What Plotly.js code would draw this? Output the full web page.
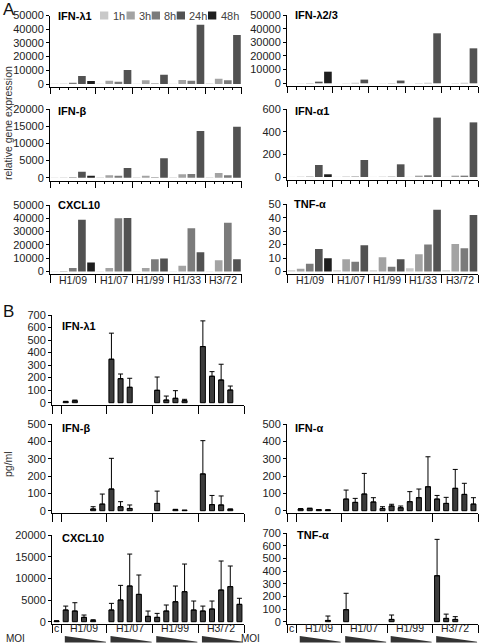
<!DOCTYPE html>
<html>
<head>
<meta charset="utf-8">
<script src="https://cdn.plot.ly/plotly-3.0.1.min.js"></script>
<style>
html,body{margin:0;padding:0;background:#fff;}
#chart{width:480px;height:643px;}
</style>
</head>
<body>
<div id="chart"></div>
<script>
// ---------------- DATA ----------------
const viruses = ['H1/09', 'H1/07', 'H1/99', 'H1/33', 'H3/72'];
const times = ['1h', '3h', '8h', '24h', '48h'];
const bGroups = ['c', 'H1/09', 'H1/07', 'H1/99', 'H3/72'];

// Panel A: relative gene expression. Rows = 1h,3h,8h,24h,48h; columns = viruses (48h only for H1/09)
const A_IFNL1 = [
  [100, 200, 150, 200, 300],
  [200, 2440, 2700, 2900, 3900],
  [1000, 1700, 300, 2440, 2700],
  [5850, 10240, 6800, 43200, 35800],
  [2200, null, null, null, null]
];
const A_IFNL23 = [
  [50, 50, 50, 50, 50],
  [100, 150, 100, 200, 200],
  [200, 300, 200, 300, 300],
  [1200, 2700, 2000, 36600, 25600],
  [8500, null, null, null, null]
];
const A_IFNB = [
  [50, 100, 100, 100, 150],
  [80, 680, 580, 970, 1360],
  [150, 580, 120, 1070, 680],
  [1750, 2820, 5630, 13600, 14850],
  [580, null, null, null, null]
];
const A_IFNA1 = [
  [1, 1, 1, 1, 1],
  [2, 3, 2, 12, 12],
  [3, 4, 3, 15, 12],
  [106, 150, 112, 524, 482],
  [24, null, null, null, null]
];
const A_CXCL10 = [
  [100, 100, 100, 100, 100],
  [300, 2700, 2700, 4300, 8500],
  [2700, 40000, 9300, 32600, 36600],
  [39000, 40300, 9800, 14500, 9300],
  [6800, null, null, null, null]
];
const A_TNFA = [
  [1, 1, 1, 2.5, 1],
  [2, 9.2, 10.6, 12.9, 20.5],
  [5.7, 7.2, 3.5, 20, 17.3],
  [16.8, 19.6, 9.2, 46, 42],
  [9.9, null, null, null, null]
];

// Panel B: pg/ml. Order: c, H1/09 x5 MOI, H1/07 x5, H1/99 x5, H3/72 x5 (decreasing MOI)
const B_IFNL1_mean = [0, 8, 15, 0, 0, 0, 347, 192, 123, 0, 0, 99, 21, 35, 16, 0, 448, 211, 181, 101, 0];
const B_IFNL1_sd   = [0, 3, 6, 0, 0, 0, 208, 37, 72, 0, 0, 106, 32, 61, 11, 0, 205, 37, 126, 32, 0];
const B_IFNB_mean  = [0, 0, 0, 0, 10, 38, 125, 23, 13, 0, 0, 42, 0, 6, 2, 0, 212, 35, 33, 8, 0];
const B_IFNB_sd    = [0, 0, 0, 0, 13, 58, 177, 29, 20, 0, 0, 71, 0, 2, 1, 0, 192, 53, 52, 2, 0];
const B_IFNA_mean  = [0, 10, 12, 5, 4, 0, 67, 48, 96, 50, 13, 27, 17, 52, 75, 138, 67, 42, 129, 94, 38];
const B_IFNA_sd    = [0, 2, 3, 1, 1, 0, 52, 23, 119, 25, 10, 10, 10, 58, 50, 173, 21, 35, 109, 64, 37];
const B_CXCL10_mean = [150, 2690, 2460, 1000, 230, 0, 2690, 5000, 8230, 6300, 1230, 1000, 2460, 4600, 6920, 2690, 2460, 2920, 7300, 8080, 4000];
const B_CXCL10_sd   = [50, 910, 1920, 540, 230, 0, 1540, 3380, 7370, 4470, 1230, 920, 1390, 3630, 6380, 2080, 1140, 1850, 6700, 4770, 1400];
const B_TNFA_mean = [0, 0, 0, 0, 10, 0, 95, 0, 0, 0, 0, 18, 0, 0, 0, 0, 364, 26, 18, 0, 0];
const B_TNFA_sd   = [0, 0, 0, 0, 35, 0, 130, 0, 0, 0, 0, 35, 0, 0, 0, 0, 288, 34, 22, 0, 0];

// ---------------- STYLE / LAYOUT ----------------
const timeColors = ['#c9c9c9', '#a3a3a3', '#7b7b7b', '#525252', '#1e1e1e'];
const F = 'Liberation Sans, Arial, Helvetica, sans-serif';
const W = 480, H = 643;
const xp = v => v / W, yp = v => 1 - v / H;

const data = [];
const layout = {
  width: W, height: H,
  margin: {l: 0, r: 0, t: 0, b: 0, pad: 0},
  paper_bgcolor: '#ffffff', plot_bgcolor: 'rgba(0,0,0,0)',
  showlegend: false, barmode: 'overlay',
  font: {family: F, size: 11, color: '#222'},
  annotations: [], shapes: []
};

let axN = 0;
function newAxes(b, yMax, dtick, xcfg) {
  axN++;
  const s = axN === 1 ? '' : String(axN);
  const lo = -yMax * (b.axis - b.zero) / (b.zero - b.top);
  layout['xaxis' + s] = Object.assign({
    domain: [xp(b.x0), xp(b.x1)], range: [-0.5, 20.5], anchor: 'y' + s,
    showline: true, linecolor: '#000', linewidth: 1,
    ticks: 'outside', tickmode: 'array', tickcolor: '#000', tickwidth: 1,
    showticklabels: false, showgrid: false, zeroline: false, fixedrange: true
  }, xcfg);
  layout['yaxis' + s] = {
    domain: [yp(b.axis), yp(b.top)], range: [lo, yMax], anchor: 'x' + s,
    showline: true, linecolor: '#000', linewidth: 1,
    ticks: 'outside', ticklen: 3, tickwidth: 1, tickcolor: '#000',
    tickmode: 'linear', tick0: 0, dtick: dtick, tickformat: 'd',
    tickfont: {family: F, size: 11, color: '#222'},
    showgrid: false, zeroline: false, fixedrange: true
  };
  return {xa: 'x' + s, ya: 'y' + s};
}

function addTitle(text, t) {
  layout.annotations.push({
    xref: 'paper', yref: 'paper', x: xp(t[0]), y: yp(t[1]),
    xanchor: 'left', yanchor: 'middle', showarrow: false,
    text: '<b>' + text + '</b>', font: {family: F, size: 11, color: '#000'}
  });
}

// slot index for panel A (H1/09 has 5 time points, others 4)
const slotA = (v, t) => v === 0 ? t : 5 + (v - 1) * 4 + t;
const groupStartA = v => v === 0 ? 0 : 5 + (v - 1) * 4;
const groupLenA = v => v === 0 ? 5 : 4;
const majorA = [-0.5].concat(viruses.map((v, i) => groupStartA(i) + groupLenA(i) - 0.5));
const minorA = [];
viruses.forEach((v, i) => { for (let k = 1; k < groupLenA(i); k++) minorA.push(groupStartA(i) + k - 0.5); });

const panelsA = [
  {title: 'IFN-λ1', d: A_IFNL1, max: 50000, dt: 10000, b: {x0: 50, x1: 241.5, top: 15.5, zero: 84, axis: 86.5}, t: [56, 16], lab: false},
  {title: 'IFN-λ2/3', d: A_IFNL23, max: 50000, dt: 10000, b: {x0: 287, x1: 478, top: 15, zero: 83.3, axis: 86}, t: [293, 15], lab: false},
  {title: 'IFN-β', d: A_IFNB, max: 20000, dt: 5000, b: {x0: 50, x1: 241.5, top: 109, zero: 177.7, axis: 180.5}, t: [56, 111], lab: false},
  {title: 'IFN-α1', d: A_IFNA1, max: 600, dt: 200, b: {x0: 287, x1: 478, top: 109, zero: 177, axis: 180}, t: [293, 111], lab: false},
  {title: 'CXCL10', d: A_CXCL10, max: 50000, dt: 10000, b: {x0: 50, x1: 241.5, top: 205, zero: 271.5, axis: 273.5}, t: [56, 205], lab: true},
  {title: 'TNF-α', d: A_TNFA, max: 50, dt: 10, b: {x0: 287, x1: 478, top: 204.3, zero: 271.5, axis: 273.5}, t: [292, 204], lab: true}
];

panelsA.forEach(p => {
  const xcfg = {tickvals: majorA, ticklen: p.lab ? 8 : 6};
  if (!p.lab) xcfg.minor = {tickmode: 'array', tickvals: minorA, ticks: 'outside', ticklen: 2.5, tickcolor: '#000', tickwidth: 1};
  const ax = newAxes(p.b, p.max, p.dt, xcfg);
  times.forEach((tm, t) => {
    const xs = [], ys = [];
    viruses.forEach((v, vi) => {
      const val = p.d[t][vi];
      if (val !== null && val !== undefined) { xs.push(slotA(vi, t)); ys.push(val); }
    });
    data.push({type: 'bar', x: xs, y: ys, width: 0.84, name: tm,
      marker: {color: timeColors[t], line: {width: 0}},
      xaxis: ax.xa, yaxis: ax.ya, hoverinfo: 'skip'});
  });
  addTitle(p.title, p.t);
  if (p.lab) {
    viruses.forEach((v, vi) => {
      layout.annotations.push({xref: ax.xa, yref: 'paper',
        x: groupStartA(vi) + (groupLenA(vi) - 1) / 2, y: yp(280),
        xanchor: 'center', yanchor: 'middle', showarrow: false, text: v,
        font: {family: F, size: 10.5, color: '#222'}});
    });
  }
});

// Panel B
const majorB = [-0.5, 0.5, 5.5, 10.5, 15.5, 20.5];
const panelsB = [
  {title: 'IFN-λ1', m: B_IFNL1_mean, sd: B_IFNL1_sd, max: 700, dt: 100, b: {x0: 52, x1: 244, top: 315, zero: 402.7, axis: 405}, t: [60, 326], lab: false},
  {title: 'IFN-β', m: B_IFNB_mean, sd: B_IFNB_sd, max: 500, dt: 100, b: {x0: 52, x1: 244, top: 424, zero: 510.7, axis: 513}, t: [60, 428], lab: false},
  {title: 'IFN-α', m: B_IFNA_mean, sd: B_IFNA_sd, max: 500, dt: 100, b: {x0: 287, x1: 478, top: 424, zero: 510.7, axis: 513}, t: [293, 428], lab: false},
  {title: 'CXCL10', m: B_CXCL10_mean, sd: B_CXCL10_sd, max: 20000, dt: 5000, b: {x0: 52, x1: 244, top: 535, zero: 621.7, axis: 624}, t: [60, 538], lab: true},
  {title: 'TNF-α', m: B_TNFA_mean, sd: B_TNFA_sd, max: 700, dt: 100, b: {x0: 287, x1: 478, top: 533.3, zero: 621.7, axis: 624}, t: [295, 535], lab: true}
];

panelsB.forEach(p => {
  const ax = newAxes(p.b, p.max, p.dt, {tickvals: majorB, ticklen: 8});
  const xs = p.m.map((v, i) => i);
  data.push({type: 'bar', x: xs, y: p.m.map(v => v > 0 ? v : null), width: 0.55,
    marker: {color: '#3c3c3c', line: {color: '#000', width: 1}},
    error_y: {type: 'data', symmetric: false,
      array: p.sd.map(v => v > 0 ? v : null),
      arrayminus: p.sd.map(v => v > 0 ? 0 : null),
      color: '#000', thickness: 1, width: 2.5},
    xaxis: ax.xa, yaxis: ax.ya, hoverinfo: 'skip'});
  addTitle(p.title, p.t);
  if (p.lab) {
    bGroups.forEach((g, gi) => {
      layout.annotations.push({xref: ax.xa, yref: 'paper',
        x: gi === 0 ? 0 : 1 + (gi - 1) * 5 + 2, y: yp(628),
        xanchor: 'center', yanchor: 'middle', showarrow: false, text: g,
        font: {family: F, size: 10.5, color: '#222'}});
      if (gi > 0) {
        const L = 1 + (gi - 1) * 5 - 0.1, R = L + 4.5;
        layout.shapes.push({type: 'path', xref: ax.xa, yref: 'paper',
          path: 'M' + L + ',' + yp(636) + ' L' + L + ',' + yp(642.5) + ' L' + R + ',' + yp(642.5) + ' L' + R + ',' + yp(641.8) + ' Z',
          fillcolor: '#333', line: {width: 0}});
      }
    });
    layout.annotations.push({xref: 'paper', yref: 'paper', x: xp(p.b.x0 - 48), y: yp(638.5),
      xanchor: 'left', yanchor: 'middle', showarrow: false, text: 'MOI',
      font: {family: F, size: 10, color: '#222'}});
  }
});

// Legend for panel A
const legX = [100, 126.5, 151.7, 176.7, 208];
times.forEach((tm, t) => {
  layout.shapes.push({type: 'rect', xref: 'paper', yref: 'paper',
    x0: xp(legX[t]), x1: xp(legX[t] + 8.3), y0: yp(19.5), y1: yp(11.5),
    fillcolor: timeColors[t], line: {width: 0}});
  layout.annotations.push({xref: 'paper', yref: 'paper', x: xp(legX[t] + 10.5), y: yp(15.5),
    xanchor: 'left', yanchor: 'middle', showarrow: false, text: tm,
    font: {family: F, size: 11, color: '#444'}});
});

// Panel letters and axis titles
layout.annotations.push({xref: 'paper', yref: 'paper', x: xp(1), y: yp(9.5), xanchor: 'left', yanchor: 'middle',
  showarrow: false, text: 'A', font: {family: F, size: 17, color: '#111'}});
layout.annotations.push({xref: 'paper', yref: 'paper', x: xp(1), y: yp(311), xanchor: 'left', yanchor: 'middle',
  showarrow: false, text: 'B', font: {family: F, size: 17, color: '#111'}});
layout.annotations.push({xref: 'paper', yref: 'paper', x: xp(8), y: yp(123), xanchor: 'center', yanchor: 'middle',
  showarrow: false, textangle: -90, text: 'relative gene expression', font: {family: F, size: 10.5, color: '#333'}});
layout.annotations.push({xref: 'paper', yref: 'paper', x: xp(8), y: yp(464), xanchor: 'center', yanchor: 'middle',
  showarrow: false, textangle: -90, text: 'pg/ml', font: {family: F, size: 10.5, color: '#333'}});

Plotly.newPlot('chart', data, layout, {staticPlot: true, displayModeBar: false});
</script>
</body>
</html>
